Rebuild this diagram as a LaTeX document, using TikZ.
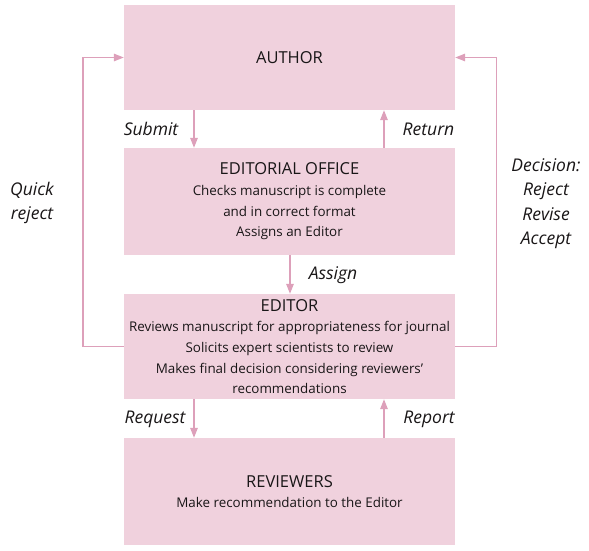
\documentclass[tikz,border=0pt]{standalone}
\usepackage{fontspec}
\setmainfont{Open Sans}
\usetikzlibrary{arrows.meta}
\definecolor{boxfill}{RGB}{240,209,221}
\definecolor{arrcol}{RGB}{221,160,186}
\definecolor{txt}{RGB}{25,22,23}
\tikzset{
  box/.style={fill=boxfill, draw=none, minimum width=331pt, inner sep=0pt, align=center, text=txt, font=\fontsize{13.4}{20.7}\selectfont},
  arr/.style={draw=arrcol, line width=1.4pt, -{Triangle[length=10pt,width=7.5pt]}},
  lbl/.style={text=txt, font=\fontsize{17.5}{24.5}\selectfont\itshape, align=center, inner sep=0pt}
}
\newcommand{\bxtitle}[1]{{\fontsize{16.5}{21}\selectfont #1}}
\begin{document}
\begin{tikzpicture}[x=1pt,y=-1pt]
\useasboundingbox (0,0) rectangle (589,551);
\node[box, minimum height=105pt] (author) at (289.5,57.5) {\bxtitle{AUTHOR}};
\node[box, minimum height=107pt] (eo) at (289.5,201.5) {\bxtitle{EDITORIAL OFFICE}\\Checks manuscript is complete\\and in correct format\\Assigns an Editor};
\node[box, minimum height=105pt] (editor) at (289.5,346.5) {\bxtitle{EDITOR}\\Reviews manuscript for appropriateness for journal\\Solicits expert scientists to review\\Makes final decision considering reviewers'\\recommendations};
\node[box, minimum height=107pt] (rev) at (289.5,491.5) {\bxtitle{REVIEWERS}\\Make recommendation to the Editor};
\coordinate (xl) at (194,0);
\coordinate (xr) at (384,0);
\coordinate (xm) at (290,0);
\draw[arr] (author.south -| xl) -- (eo.north -| xl);
\draw[arr] (eo.north -| xr) -- (author.south -| xr);
\draw[arr] (eo.south -| xm) -- (editor.north -| xm);
\draw[arr] (editor.south -| xl) -- (rev.north -| xl);
\draw[arr] (rev.north -| xr) -- (editor.south -| xr);
\draw[arr] (editor.west) -- ++(-41,0) |- (author.west);
\draw[arr] (editor.east) -- ++(41,0) |- (author.east);
\node[lbl] (lsub) at (151,129) {Submit};
\node[lbl] (lret) at (428.5,129) {Return};
\node[lbl] (lass) at (333,275) {Assign};
\node[lbl] (lreq) at (155,419) {Request};
\node[lbl] (lrep) at (429,419) {Report};
\node[lbl] (lqr) at (32,203) {Quick\\reject};
\node[lbl] (ldec) at (546,203.5) {Decision:\\Reject\\Revise\\Accept};
\end{tikzpicture}
\end{document}
